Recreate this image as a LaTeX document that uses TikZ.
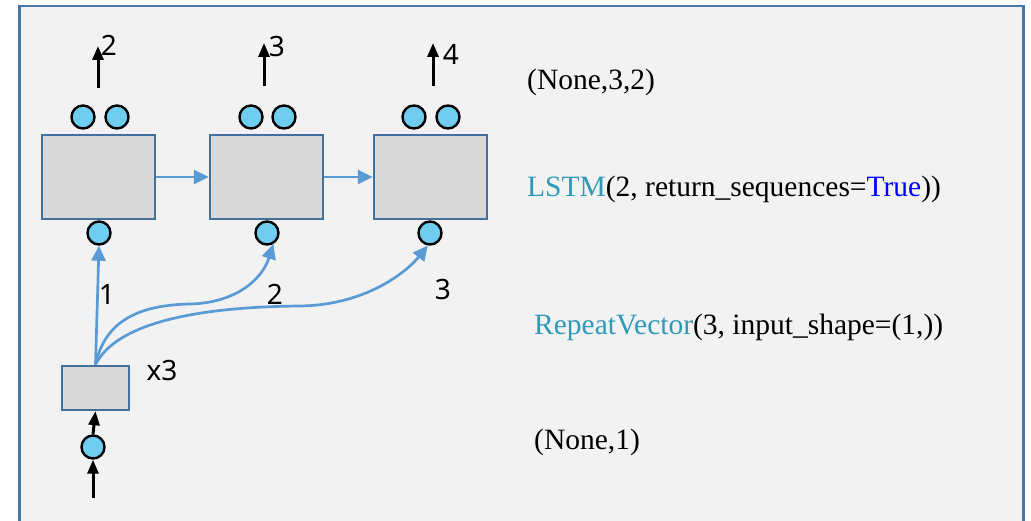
\documentclass[tikz,border=0pt]{standalone}
\usepackage{fontspec}
\setmainfont{Liberation Serif}
\newfontfamily\labelfont{Noto Sans}
\usetikzlibrary{arrows.meta}

\definecolor{panelfill}{HTML}{F2F2F2}
\definecolor{panelline}{HTML}{4A76A8}
\definecolor{cellfill}{HTML}{D9D9D9}
\definecolor{cellline}{HTML}{41719C}
\definecolor{unitfill}{HTML}{6FCDF0}
\definecolor{flowblue}{HTML}{5B9BD5}
\definecolor{kerasteal}{HTML}{2E9AB8}
\definecolor{kwblue}{HTML}{0000FF}

\tikzset{
  cell/.style={draw=cellline, fill=cellfill, line width=2.4pt, minimum width=113pt, minimum height=84pt, inner sep=0pt},
  smallcell/.style={draw=cellline, fill=cellfill, line width=2.4pt, minimum width=67pt, minimum height=44pt, inner sep=0pt},
  unit/.style={circle, draw=black, fill=unitfill, line width=2.4pt, minimum size=23pt, inner sep=0pt},
  blueflow/.style={draw=flowblue, line width=2.7pt, -{Triangle[length=15pt, width=14pt]}},
  blackflow/.style={draw=black, line width=3pt, -{Triangle[length=14pt, width=11pt]}},
  numlabel/.style={font=\labelfont\fontsize{28}{33}\selectfont, inner sep=0pt},
  codetext/.style={font=\fontsize{29.5}{35}\selectfont, anchor=west, inner sep=0pt}
}

\begin{document}
\begin{tikzpicture}[x=1pt, y=-1pt]
\useasboundingbox (0,0) rectangle (1031,521);
\clip (0,0) rectangle (1031,521);

% panel
\draw[panelline, fill=panelfill, line width=2.3pt] (19.5,6) rectangle (1023.5,560);

% LSTM cells
\node[cell] (l1) at (98.5,177) {};
\node[cell] (l2) at (266.5,177) {};
\node[cell] (l3) at (430.5,177) {};

% output units above each cell
\node[unit] (o1a) at (83,117) {};
\node[unit] (o1b) at (117,117) {};
\node[unit] (o2a) at (251,117) {};
\node[unit] (o2b) at (284,117) {};
\node[unit] (o3a) at (414,117) {};
\node[unit] (o3b) at (448,117) {};

% input units below each cell
\node[unit] (b1) at (99,233) {};
\node[unit] (b2) at (267,233) {};
\node[unit] (b3) at (430,233) {};

% output arrows
\coordinate (t1s) at (98,88);  \coordinate (t1e) at (98,46);
\coordinate (t2s) at (264,86); \coordinate (t2e) at (264,43);
\coordinate (t3s) at (433,86); \coordinate (t3e) at (433,43);
\draw[blackflow] (t1s) -- (t1e);
\draw[blackflow] (t2s) -- (t2e);
\draw[blackflow] (t3s) -- (t3e);
\node[numlabel] (n2) at (109,45) {2};
\node[numlabel] (n3) at (277,47) {3};
\node[numlabel] (n4) at (451,54) {4};

% recurrent connections
\draw[blueflow] (l1.east) -- (l2.west);
\draw[blueflow] (l2.east) -- (l3.west);

% repeat vector block
\node[smallcell] (rv) at (95.5,388) {};
\node[unit] (inp) at (93,447) {};
\coordinate (src) at (93,498);
\draw[blackflow] (inp.north) -- (rv.south);
\draw[blackflow] (src) -- (inp.south);
\node[numlabel] (x3) at (162,371) {x3};

% repeated copies fed to each time step
\draw[blueflow] (rv.north) -- (b1.south);
\draw[blueflow] (rv.north) .. controls (105,320) and (140,305) .. (190,304)
  .. controls (235,303) and (262,280) .. (b2.-60);
\draw[blueflow] (rv.north) .. controls (115,325) and (190,307) .. (300,306)
  .. controls (370,305) and (410,268) .. (b3.-100);
\node[numlabel] (s1) at (107,295) {1};
\node[numlabel] (s2) at (275,294) {2};
\node[numlabel] (s3) at (443,290) {3};

% layer descriptions
\node[codetext] (shape3) at (527,82) {(None,3,2)};
\node[codetext] (lstm) at (527,189) {\textcolor{kerasteal}{LSTM}(2, return\_sequences=\textcolor{kwblue}{True}))};
\node[codetext] (repv) at (534,327) {\textcolor{kerasteal}{RepeatVector}(3, input\_shape=(1,))};
\node[codetext] (shape1) at (534,442) {(None,1)};
\end{tikzpicture}
\end{document}
